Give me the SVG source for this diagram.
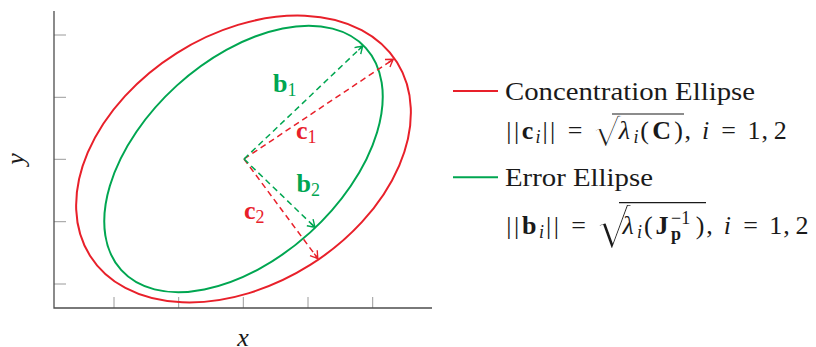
<svg xmlns="http://www.w3.org/2000/svg" width="816" height="347" viewBox="0 0 816 347">
<style>
.ax{stroke:#4d4d4d;stroke-width:1.3;fill:none}
.tk{stroke:#9a9a9a;stroke-width:1;fill:none}
.ell{fill:none;stroke-width:2}
.red{stroke:#e8202a}
.grn{stroke:#00a651}
.dash{fill:none;stroke-width:1.5;stroke-dasharray:6 4}
.t{font-family:"Liberation Serif","Times New Roman",serif;font-size:26px;fill:#1a1a1a}
.m{font-family:"Liberation Serif","Times New Roman",serif;font-size:26px;fill:#1a1a1a;text-anchor:middle}
.rad{font-family:"DejaVu Serif",serif;fill:#1a1a1a;stroke:#ffffff}
.s{font-size:18px}
.it{font-style:italic}
.bf{font-weight:bold}
.lr{fill:#e8202a}
.lg{fill:#00a651}
.vin{stroke:#1a1a1a;stroke-width:1.2}
</style>
<defs>
<marker id="ah-r" markerUnits="userSpaceOnUse" markerWidth="12" markerHeight="12" viewBox="-10 -6 12 12" refX="0" refY="0" orient="auto">
<path d="M-7,-4.5 Q-2,-1.2 0,0 Q-2,1.2 -7,4.5 M-6,0 L0,0" fill="none" stroke="#e8202a" stroke-width="1.4"/>
</marker>
<marker id="ah-g" markerUnits="userSpaceOnUse" markerWidth="12" markerHeight="12" viewBox="-10 -6 12 12" refX="0" refY="0" orient="auto">
<path d="M-7,-4.5 Q-2,-1.2 0,0 Q-2,1.2 -7,4.5 M-6,0 L0,0" fill="none" stroke="#00a651" stroke-width="1.4"/>
</marker>
</defs>

<g id="axes">
<line class="tk" x1="54" y1="35" x2="66" y2="35"/>
<line class="tk" x1="54" y1="97.3" x2="66" y2="97.3"/>
<line class="tk" x1="54" y1="159.3" x2="66" y2="159.3"/>
<line class="tk" x1="54" y1="221.7" x2="66" y2="221.7"/>
<line class="tk" x1="54" y1="284" x2="66" y2="284"/>
<line class="tk" x1="114" y1="297" x2="114" y2="308"/>
<line class="tk" x1="178.7" y1="297" x2="178.7" y2="308"/>
<line class="tk" x1="243.3" y1="297" x2="243.3" y2="308"/>
<line class="tk" x1="308" y1="297" x2="308" y2="308"/>
<line class="tk" x1="372.7" y1="297" x2="372.7" y2="308"/>
<polyline class="ax" points="54,11 54,308 432,308"/>
<text class="m it" x="243" y="346">x</text>
<text class="m it" transform="translate(24,159) rotate(-90)" x="0" y="0">y</text>
</g>

<g id="ellipse-concentration">
<ellipse class="ell red" cx="243.5" cy="159" rx="181.4" ry="125.2" transform="rotate(-32.2 243.5 159)"/>
</g>
<g id="ellipse-error">
<ellipse class="ell grn" cx="243.5" cy="159" rx="165.2" ry="99.2" transform="rotate(-42.3 243.5 159)"/>
</g>

<g id="connectors">
<line class="dash red" x1="244" y1="159" x2="393.3" y2="59.3" marker-end="url(#ah-r)"/>
<line class="dash red" x1="244" y1="159" x2="317.8" y2="258.5" marker-end="url(#ah-r)"/>
<line class="dash grn" x1="244" y1="159" x2="362.7" y2="46" marker-end="url(#ah-g)"/>
<line class="dash grn" x1="244" y1="159" x2="315" y2="227.3" marker-end="url(#ah-g)"/>
</g>

<g id="vector-labels">
<text class="t lg" x="273" y="92"><tspan class="bf">b</tspan><tspan class="s" dy="4">1</tspan></text>
<text class="t lr" x="296" y="138.5"><tspan class="bf">c</tspan><tspan class="s" dy="4">1</tspan></text>
<text class="t lg" x="296.5" y="192.3"><tspan class="bf">b</tspan><tspan class="s" dy="4">2</tspan></text>
<text class="t lr" x="244" y="219.3"><tspan class="bf">c</tspan><tspan class="s" dy="4">2</tspan></text>
</g>

<g id="legend">
<line class="red" x1="453" y1="91" x2="498" y2="91" stroke-width="2"/>
<text class="t" x="505" y="99.5" textLength="250" lengthAdjust="spacingAndGlyphs">Concentration Ellipse</text>
<g id="formula-c">
<text class="rad" font-size="38" stroke-width="1.2" transform="translate(594,146) scale(1.12,1)">√</text>
<line class="vin" x1="612" y1="114" x2="684" y2="114"/>
<text class="m" x="508.9" y="139">|</text>
<text class="m" x="516.6" y="139">|</text>
<text class="m bf" x="527.5" y="139">c</text>
<text class="m it s" x="538" y="143">i</text>
<text class="m" x="545" y="139">|</text>
<text class="m" x="552.7" y="139">|</text>
<text class="m" x="575" y="139">=</text>
<text class="m it" x="624.5" y="139">λ</text>
<text class="m it s" x="636" y="143">i</text>
<text class="m" x="644.7" y="139">(</text>
<text class="m bf" x="661.6" y="139">C</text>
<text class="m" x="678.5" y="139">)</text>
<text class="m" x="687.7" y="139">,</text>
<text class="m it" x="705.5" y="139">i</text>
<text class="m" x="728.7" y="139">=</text>
<text class="m" x="754" y="139">1</text>
<text class="m" x="764.8" y="139">,</text>
<text class="m" x="780.2" y="139">2</text>
</g>
<line class="grn" x1="453" y1="177.3" x2="498" y2="177.3" stroke-width="2"/>
<text class="t" x="505" y="186" textLength="148" lengthAdjust="spacingAndGlyphs">Error Ellipse</text>
<g id="formula-b">
<text class="rad" font-size="54" stroke-width="1.8" transform="translate(597,248)">√</text>
<line class="vin" x1="619" y1="202.7" x2="706" y2="202.7"/>
<text class="m" x="508.9" y="234">|</text>
<text class="m" x="516.6" y="234">|</text>
<text class="m bf" x="529.2" y="234">b</text>
<text class="m it s" x="541.4" y="238">i</text>
<text class="m" x="548.7" y="234">|</text>
<text class="m" x="556.4" y="234">|</text>
<text class="m" x="578.6" y="234">=</text>
<text class="m it" x="628.1" y="234">λ</text>
<text class="m it s" x="639.5" y="238">i</text>
<text class="m" x="648.3" y="234">(</text>
<text class="m bf" x="661.9" y="234">J</text>
<text class="m bf s" x="676" y="240">p</text>
<text class="t s" x="671" y="223.5">−1</text>
<text class="m" x="700.2" y="234">)</text>
<text class="m" x="709.5" y="234">,</text>
<text class="m it" x="727.3" y="234">i</text>
<text class="m" x="750.5" y="234">=</text>
<text class="m" x="775.8" y="234">1</text>
<text class="m" x="786.5" y="234">,</text>
<text class="m" x="801.9" y="234">2</text>
</g>
</g>
</svg>
